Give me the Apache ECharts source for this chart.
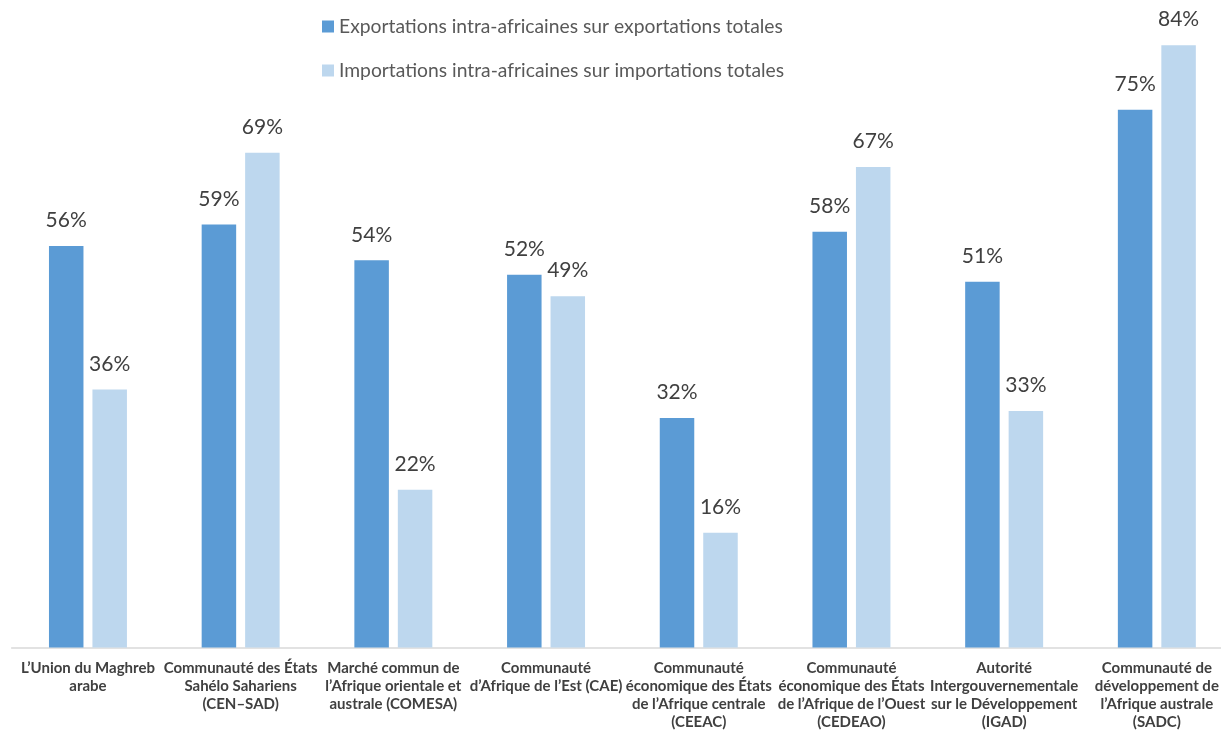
<!DOCTYPE html>
<html>
<head>
<meta charset="utf-8">
<script src="https://cdn.jsdelivr.net/npm/echarts@6/dist/echarts.min.js"></script>
<style>
html,body{margin:0;padding:0;background:#fff;}
#chart{width:1221px;height:733px;}
</style>
</head>
<body>
<div id="chart"></div>
<script>
const categories = [
  "L’Union du Maghreb\narabe",
  "Communauté des États\nSahélo Sahariens\n(CEN–SAD)",
  "Marché commun de\nl’Afrique orientale et\naustrale (COMESA)",
  "Communauté\nd’Afrique de l’Est (CAE)",
  "Communauté\néconomique des États\nde l’Afrique centrale\n(CEEAC)",
  "Communauté\néconomique des États\nde l’Afrique de l’Ouest\n(CEDEAO)",
  "Autorité\nIntergouvernementale\nsur le Développement\n(IGAD)",
  "Communauté de\ndéveloppement de\nl’Afrique australe\n(SADC)"
];
const seriesNames = [
  "Exportations intra-africaines sur exportations totales",
  "Importations intra-africaines sur importations totales"
];
const exportsShare = [56, 59, 54, 52, 32, 58, 51, 75];
const importsShare = [36, 69, 22, 49, 16, 67, 33, 84];

const chart = echarts.init(document.getElementById('chart'), null, {renderer: 'canvas'});
const labelStyle = {
  show: true,
  position: 'top',
  distance: 15,
  formatter: '{c}%',
  color: '#404040',
  fontFamily: 'Lato',
  fontSize: 21
};
chart.setOption({
  animation: false,
  backgroundColor: '#ffffff',
  legend: {
    orient: 'vertical',
    left: 317,
    top: 12,
    itemWidth: 12,
    itemHeight: 12,
    itemGap: 25,
    icon: 'rect',
    textStyle: {color: '#595959', fontFamily: 'Lato', fontSize: 19.3},
    data: seriesNames
  },
  grid: {left: 11.6, top: 2.2, width: 1221.6, bottom: 85.5, containLabel: false, outerBoundsMode: 'none'},
  xAxis: {
    type: 'category',
    data: categories,
    axisLine: {show: true, lineStyle: {color: '#D9D9D9', width: 1.5}},
    axisTick: {show: false},
    axisLabel: {
      interval: 0,
      margin: 11.5,
      color: '#404040',
      fontFamily: 'Lato',
      fontWeight: 'bold',
      fontSize: 15,
      lineHeight: 18,
      align: 'center'
    }
  },
  yAxis: {type: 'value', min: 0, max: 90, show: false, splitLine: {show: false}},
  series: [
    {
      name: seriesNames[0], type: 'bar', data: exportsShare,
      barWidth: 34.5, barGap: '26%',
      itemStyle: {color: '#5B9BD5'},
      label: labelStyle
    },
    {
      name: seriesNames[1], type: 'bar', data: importsShare,
      barWidth: 34.5, barGap: '26%',
      itemStyle: {color: '#BDD7EE'},
      label: labelStyle
    }
  ]
});
</script>
</body>
</html>
